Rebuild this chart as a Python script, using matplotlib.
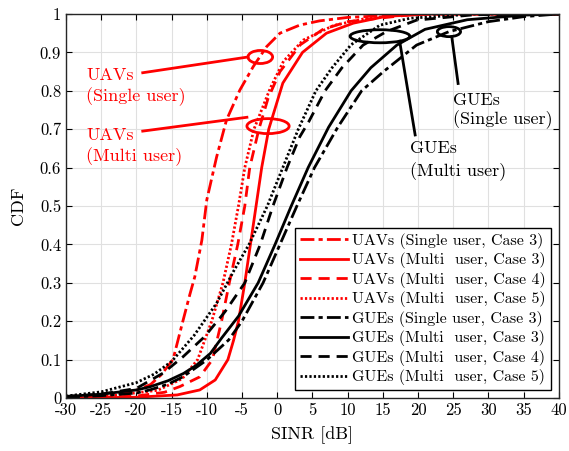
import numpy as np
import matplotlib
matplotlib.use('Agg')
import matplotlib.pyplot as plt
from matplotlib.patches import Ellipse

plt.rcParams['font.family'] = 'serif'
plt.rcParams['font.serif'] = ['cmr10']
plt.rcParams['mathtext.fontset'] = 'cm'
plt.rcParams['axes.unicode_minus'] = False
plt.rcParams['axes.formatter.use_mathtext'] = True

# UAVs (Single user, Case 3)
uav_single_c3_x = [-30, -25, -20, -18, -16.5, -14.8, -13.4, -12.4, -11.7, -10.7, -10.0,
                   -8.6, -7.2, -5.3, -3.4, -1.5, 0.4, 3.2, 6, 10, 20, 40]
uav_single_c3_y = [0, 0.005, 0.02, 0.035, 0.06, 0.1, 0.2, 0.27, 0.316, 0.411, 0.516,
                   0.628, 0.724, 0.802, 0.863, 0.915, 0.95, 0.971, 0.982, 0.991, 1.0, 1.0]

# UAVs (Multi user, Case 3)
uav_multi_c3_x = [-30, -25, -20, -14.2, -11, -8.8, -7.0, -6.2, -5.5, -4.6, -3.8,
                  -3.0, -2.2, -1.2, 0.8, 3.6, 7.0, 10.8, 15.5, 22, 40]
uav_multi_c3_y = [0, 0.001, 0.002, 0.008, 0.021, 0.047, 0.1, 0.15, 0.2, 0.3, 0.4,
                  0.5, 0.6, 0.7, 0.82, 0.9, 0.95, 0.976, 0.994, 1.0, 1.0]

# UAVs (Multi user, Case 4)
uav_multi_c4_x = [-30, -25, -20, -16, -13.8, -11, -9.2, -7.9, -6.8, -5.6, -4.6,
                  -3.9, -2.6, -1.3, 0.4, 3.3, 6.5, 10, 20, 40]
uav_multi_c4_y = [0, 0.002, 0.005, 0.015, 0.03, 0.055, 0.1, 0.2, 0.3, 0.4, 0.5,
                  0.6, 0.7, 0.78, 0.85, 0.92, 0.96, 0.98, 1.0, 1.0]

# UAVs (Multi user, Case 5)
uav_multi_c5_x = [-30, -24, -17, -13.5, -11.3, -9.3, -7.7, -6.5, -5.5, -4.6,
                  -3.3, -1.0, 0.9, 3.7, 8, 13, 20, 40]
uav_multi_c5_y = [0, 0.005, 0.02, 0.05, 0.1, 0.2, 0.3, 0.4, 0.5, 0.6,
                  0.7, 0.806, 0.877, 0.932, 0.97, 0.99, 1.0, 1.0]

# GUEs (Single user, Case 3)
gue_single_c3_x = [-30, -25, -20, -18.1, -15.5, -13.4, -10, -6.9, -5.0, -2.0, 0.4,
                   2.8, 5.3, 8.6, 12.0, 15.1, 19.8, 24.4, 30, 35, 40]
gue_single_c3_y = [0.002, 0.006, 0.013, 0.021, 0.036, 0.055, 0.099, 0.151, 0.2, 0.3, 0.4,
                   0.5, 0.6, 0.705, 0.8, 0.85, 0.919, 0.954, 0.98, 0.993, 1.0]

# GUEs (Multi user, Case 3)
gue_multi_c3_x = [-30, -25, -20, -18.1, -15.5, -13.3, -11.5, -9.5, -7.9, -5.5, -2.7,
                  -0.3, 2.0, 4.4, 7.3, 10.5, 13.3, 17.0, 21, 27, 35, 40]
gue_multi_c3_y = [0.004, 0.01, 0.021, 0.029, 0.045, 0.064, 0.085, 0.116, 0.156, 0.213, 0.3,
                  0.4, 0.5, 0.6, 0.705, 0.8, 0.86, 0.919, 0.96, 0.985, 0.997, 1.0]

# GUEs (Multi user, Case 4)
gue_multi_c4_x = [-30, -25, -20, -16.2, -13.4, -10.3, -7.4, -4.6, -2.4, -0.6, 1.4,
                  3.2, 4.5, 6.8, 9.2, 12.2, 15.5, 19.8, 28, 40]
gue_multi_c4_y = [0.004, 0.01, 0.025, 0.065, 0.107, 0.16, 0.225, 0.3, 0.4, 0.5, 0.6,
                  0.68, 0.72, 0.8, 0.86, 0.919, 0.954, 0.984, 0.998, 1.0]

# GUEs (Multi user, Case 5)
gue_multi_c5_x = [-30, -25, -20, -17.5, -15, -11.8, -8.6, -6.2, -4.0, -1.4, 0.8,
                  3.0, 5.5, 7.8, 10.5, 14.6, 18.9, 28, 40]
gue_multi_c5_y = [0.005, 0.016, 0.04, 0.062, 0.095, 0.163, 0.247, 0.33, 0.4, 0.5, 0.6,
                  0.7, 0.8, 0.86, 0.92, 0.971, 0.989, 1.0, 1.0]

x_ticks = list(range(-30, 41, 5))
y_ticks = [0, 0.1, 0.2, 0.3, 0.4, 0.5, 0.6, 0.7, 0.8, 0.9, 1]
y_tick_labels = ['0', '0.1', '0.2', '0.3', '0.4', '0.5', '0.6', '0.7', '0.8', '0.9', '1']

fig = plt.figure(figsize=(5.69, 4.51), dpi=100)
ax = fig.add_axes([0.116, 0.1175, 0.866, 0.8515])

lw = 2
dashdot = (0, (5, 1.5, 1.5, 1.5))
dashed = (0, (4, 2.5))
dotted = (0, (0.8, 0.8))

ax.plot(uav_single_c3_x, uav_single_c3_y, color='red', lw=lw, ls=dashdot,
        label='UAVs (Single user, Case 3)')
ax.plot(uav_multi_c3_x, uav_multi_c3_y, color='red', lw=lw, ls='-',
        label='UAVs (Multi  user, Case 3)')
ax.plot(uav_multi_c4_x, uav_multi_c4_y, color='red', lw=lw, ls=dashed,
        label='UAVs (Multi  user, Case 4)')
ax.plot(uav_multi_c5_x, uav_multi_c5_y, color='red', lw=lw, ls=dotted,
        label='UAVs (Multi  user, Case 5)')
ax.plot(gue_single_c3_x, gue_single_c3_y, color='black', lw=lw, ls=dashdot,
        label='GUEs (Single user, Case 3)')
ax.plot(gue_multi_c3_x, gue_multi_c3_y, color='black', lw=lw, ls='-',
        label='GUEs (Multi  user, Case 3)')
ax.plot(gue_multi_c4_x, gue_multi_c4_y, color='black', lw=lw, ls=dashed,
        label='GUEs (Multi  user, Case 4)')
ax.plot(gue_multi_c5_x, gue_multi_c5_y, color='black', lw=lw, ls=dotted,
        label='GUEs (Multi  user, Case 5)')

# annotations
fs_ann = 13
ax.add_patch(Ellipse((-2.4, 0.888), 3.5, 0.034, fill=False, ec='red', lw=2))
ax.plot([-19.1, -4.15], [0.847, 0.888], color='red', lw=2)
ax.text(-27.1, 0.841, 'UAVs', color='red', fontsize=fs_ann, ha='left', va='center')
ax.text(-27.1, 0.785, '(Single user)', color='red', fontsize=fs_ann, ha='left', va='center')

ax.add_patch(Ellipse((-1.3, 0.708), 6.0, 0.039, fill=False, ec='red', lw=2))
ax.plot([-19.1, -4.3], [0.695, 0.731], color='red', lw=2)
ax.text(-27.1, 0.685, 'UAVs', color='red', fontsize=fs_ann, ha='left', va='center')
ax.text(-27.1, 0.628, '(Multi user)', color='red', fontsize=fs_ann, ha='left', va='center')

ax.add_patch(Ellipse((14.6, 0.942), 8.5, 0.034, fill=False, ec='black', lw=2))
ax.plot([19.6, 17.4], [0.685, 0.929], color='black', lw=2)
ax.text(18.9, 0.651, 'GUEs', color='black', fontsize=fs_ann, ha='left', va='center')
ax.text(18.9, 0.589, '(Multi user)', color='black', fontsize=fs_ann, ha='left', va='center')

ax.add_patch(Ellipse((24.4, 0.954), 3.3, 0.026, fill=False, ec='black', lw=2))
ax.plot([25.7, 24.8], [0.819, 0.941], color='black', lw=2)
ax.text(25.0, 0.776, 'GUEs', color='black', fontsize=fs_ann, ha='left', va='center')
ax.text(25.0, 0.724, '(Single user)', color='black', fontsize=fs_ann, ha='left', va='center')

ax.set_xlim(-30, 40)
ax.set_ylim(0, 1)
ax.set_xticks(x_ticks)
ax.set_xticklabels([str(t) for t in x_ticks])
ax.set_yticks(y_ticks)
ax.set_yticklabels(y_tick_labels)
ax.tick_params(direction='in', top=True, right=True, labelsize=12, length=4)
ax.grid(True, color='#e0e0e0', lw=0.8)
ax.set_axisbelow(True)
for s in ax.spines.values():
    s.set_color('#262626')
    s.set_linewidth(1)
ax.set_xlabel('SINR [dB]', fontsize=13, labelpad=6)
ax.set_ylabel('CDF', fontsize=13, labelpad=10)

leg = ax.legend(loc='lower right', fontsize=11.5, frameon=True, fancybox=False,
                edgecolor='black', framealpha=1, borderaxespad=0.5, handlelength=3.0,
                handletextpad=0.3, labelspacing=0.22, borderpad=0.3)
leg.get_frame().set_linewidth(1)

fig.savefig('out.png', dpi=100)
